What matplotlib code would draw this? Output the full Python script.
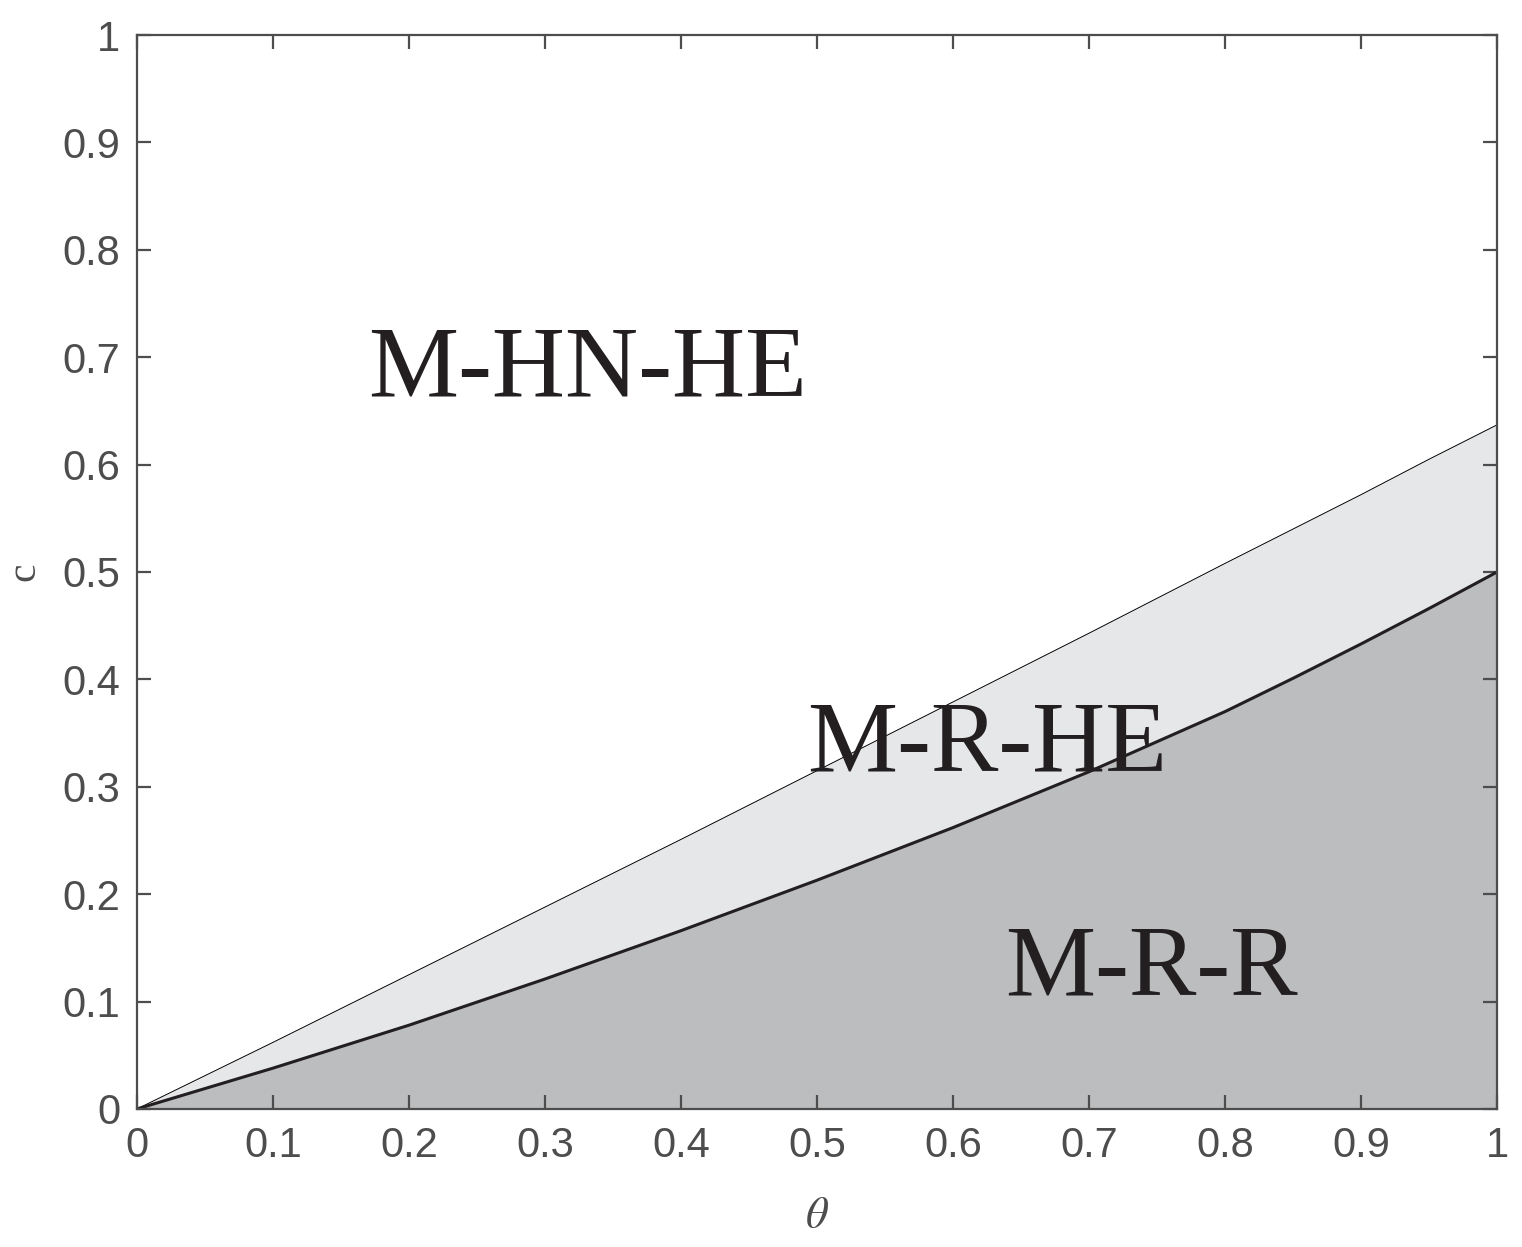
import numpy as np
import matplotlib
matplotlib.use("Agg")
import matplotlib.pyplot as plt

# boundary curves
theta = [0.0, 0.1, 0.2, 0.3, 0.4, 0.5, 0.6, 0.7, 0.8, 0.85, 0.9, 0.95, 1.0]
c_upper = [0.0, 0.062, 0.125, 0.188, 0.251, 0.315, 0.379, 0.443, 0.508, 0.540, 0.572, 0.605, 0.637]
c_lower = [0.0, 0.038, 0.078, 0.121, 0.166, 0.213, 0.262, 0.314, 0.370, 0.401, 0.433, 0.466, 0.500]

regions = ["M-HN-HE", "M-R-HE", "M-R-R"]
region_pos = [(0.170, 0.663), (0.493, 0.314), (0.638, 0.106)]

ticks = [0, 0.1, 0.2, 0.3, 0.4, 0.5, 0.6, 0.7, 0.8, 0.9, 1]
tick_labels = ["0", "0.1", "0.2", "0.3", "0.4", "0.5", "0.6", "0.7", "0.8", "0.9", "1"]

axcol = "#4d4d4d"
plt.rcParams['font.family'] = ['Liberation Sans', 'DejaVu Sans']
plt.rcParams['mathtext.fontset'] = 'stix'

fig = plt.figure(figsize=(15.22, 12.47), dpi=100)
ax = fig.add_axes([0.090, 0.1107, 0.8936, 0.8612])

ax.fill_between(theta, c_lower, c_upper, color="#e6e7e9", lw=0)
ax.fill_between(theta, 0, c_lower, color="#bcbdbf", lw=0)
ax.plot(theta, c_upper, color="black", lw=0.7)
ax.plot(theta, c_lower, color="#231f20", lw=2.2)

for lab, (x, y) in zip(regions, region_pos):
    ax.text(x, y, lab, family="Liberation Serif", fontsize=73,
            color="#231f20", ha="left", va="baseline")

ax.set_xlim(0, 1)
ax.set_ylim(0, 1)
ax.set_xticks(ticks)
ax.set_xticklabels(tick_labels)
ax.set_yticks(ticks)
ax.set_yticklabels(tick_labels)
ax.tick_params(direction="in", length=10, width=1.6, colors=axcol,
               labelsize=30, top=True, right=True, pad=12)
for s in ax.spines.values():
    s.set_color(axcol)
    s.set_linewidth(1.6)

ax.set_xlabel(r"$\theta$", fontsize=32, color=axcol, labelpad=22)
ax.set_ylabel("c", fontsize=30, color=axcol, family="Liberation Serif", labelpad=14)

fig.savefig("out.png", dpi=100)
